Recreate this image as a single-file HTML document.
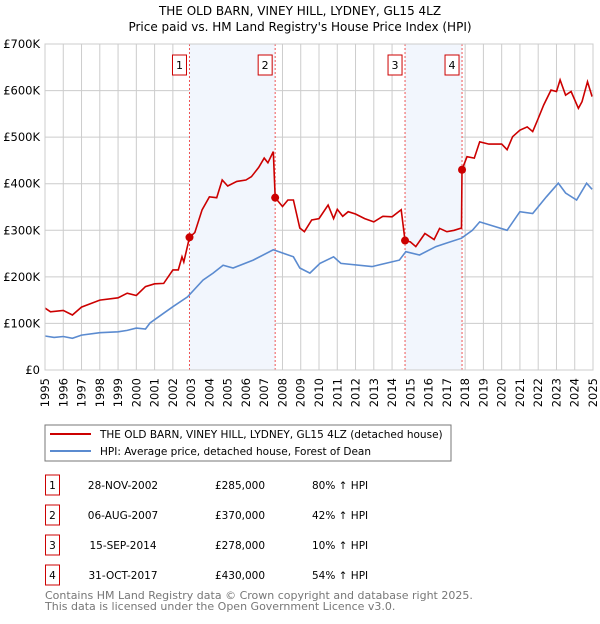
<!DOCTYPE html>
<html><head><meta charset="utf-8"><style>
body{margin:0;width:600px;height:620px;background:#fff;font-family:"DejaVu Sans","Liberation Sans",sans-serif;overflow:hidden}
svg text{font-family:"DejaVu Sans","Liberation Sans",sans-serif}
</style></head><body>
<svg id="chart" width="600" height="620" xmlns="http://www.w3.org/2000/svg">
<text x="300" y="15" text-anchor="middle" font-size="12">THE OLD BARN, VINEY HILL, LYDNEY, GL15 4LZ</text>
<text x="300" y="31" text-anchor="middle" font-size="12">Price paid vs. HM Land Registry's House Price Index (HPI)</text>
<g id="grid"></g><g id="shade"></g><g id="lines"></g><g id="axes"></g>
<rect x="45" y="425" width="406" height="36" fill="#fff" stroke="#777"/>
<line x1="50" y1="434" x2="91" y2="434" stroke="#cc0000" stroke-width="2"/>
<text x="100" y="438" font-size="10.5">THE OLD BARN, VINEY HILL, LYDNEY, GL15 4LZ (detached house)</text>
<line x1="50" y1="451" x2="91" y2="451" stroke="#5b8bd0" stroke-width="2"/>
<text x="100" y="455" font-size="10.5">HPI: Average price, detached house, Forest of Dean</text>
<g id="table" font-size="10.5"></g>
<text x="45" y="599" font-size="11" fill="#777">Contains HM Land Registry data © Crown copyright and database right 2025.</text>
<text x="45" y="610" font-size="11" fill="#777">This data is licensed under the Open Government Licence v3.0.</text>
</svg>
<script>
const hpiYears=[1995,1995.5,1996,1996.5,1997,1998,1999,1999.5,2000,2000.5,2000.75,2001.5,2002,2002.8,2003.65,2004.2,2004.75,2005.3,2006.4,2007.5,2008.6,2008.95,2009.5,2010.05,2010.8,2011.2,2012.9,2014.4,2014.75,2015.5,2016.4,2016.95,2017.8,2018.4,2018.8,2020.3,2021,2021.7,2022.45,2023.1,2023.5,2024.1,2024.65,2024.95];
const hpiValues=[73,70,72,68,75,80,82,85,90,88,101,122,136,157,193,208,225,219,236,258,243,219,208,229,243,229,222,236,254,247,265,272,283,300,318,300,340,336,372,401,380,365,401,388];
const priceYears=[1995,1995.3,1996,1996.5,1997,1998,1999,1999.5,2000,2000.5,2001,2001.5,2002,2002.3,2002.5,2002.6,2002.91,2003.2,2003.6,2004,2004.4,2004.7,2005,2005.5,2006,2006.3,2006.7,2007,2007.2,2007.5,2007.6,2008,2008.3,2008.6,2008.95,2009.2,2009.6,2010,2010.5,2010.8,2011,2011.3,2011.6,2012,2012.5,2013,2013.5,2014,2014.5,2014.71,2015,2015.3,2015.8,2016.3,2016.6,2017,2017.4,2017.8,2017.83,2018.1,2018.5,2018.8,2019.3,2019.7,2020,2020.3,2020.6,2021,2021.4,2021.7,2022,2022.3,2022.7,2023,2023.2,2023.5,2023.8,2024.2,2024.4,2024.7,2024.95];
const priceValues=[133,125,128,118,135,150,155,165,160,179,185,186,215,215,243,232,285,295,344,372,370,408,395,405,408,415,435,455,445,469,370,351,365,365,305,297,322,325,354,325,345,330,340,335,325,318,330,329,344,278,275,265,293,280,304,297,300,305,430,458,455,490,485,485,485,473,501,515,522,512,540,569,601,598,623,590,598,562,576,619,587];
const saleYears=[2002.91,2007.6,2014.71,2017.83];
const saleValues=[285,370,278,430];
const saleLabels=["1","2","3","4"];
const saleDates=["28-NOV-2002","06-AUG-2007","15-SEP-2014","31-OCT-2017"];
const salePrices=["£285,000","£370,000","£278,000","£430,000"];
const saleDiffs=["80% ↑ HPI","42% ↑ HPI","10% ↑ HPI","54% ↑ HPI"];
const yTicks=[0,100,200,300,400,500,600,700];
const yTickLabels=["£0","£100K","£200K","£300K","£400K","£500K","£600K","£700K"];
const xTicks=[1995,1996,1997,1998,1999,2000,2001,2002,2003,2004,2005,2006,2007,2008,2009,2010,2011,2012,2013,2014,2015,2016,2017,2018,2019,2020,2021,2022,2023,2024,2025];

const NS="http://www.w3.org/2000/svg";
const X0=45,X1=593,Y0=370,Y1=44;
const xs=y=>X0+(y-1995)/30*(X1-X0);
const ys=v=>Y0-v/700*(Y0-Y1);
function mk(tag,attrs,parent,text){const e=document.createElementNS(NS,tag);for(const k in attrs)e.setAttribute(k,attrs[k]);if(text!==undefined)e.textContent=text;document.getElementById(parent).appendChild(e);return e;}
for(let i=0;i<4;i+=2){
 const r=mk('rect',{x:xs(saleYears[i]),y:Y1,width:xs(saleYears[i+1])-xs(saleYears[i]),height:Y0-Y1,fill:'#f2f6fd'},'shade');
 
 
}
yTicks.forEach((t,i)=>{
 const l=mk('line',{x1:X0,x2:X1,y1:ys(t),y2:ys(t),stroke:'#cccccc'},'grid');
 
 
 const tx=mk('text',{x:X0-5,y:ys(t)+4,'text-anchor':'end','font-size':'11.5'},'axes',yTickLabels[i]);
 
 
});
xTicks.forEach(t=>{
 const l=mk('line',{x1:xs(t),x2:xs(t),y1:Y1,y2:Y0,stroke:'#cccccc'},'grid');
 
 
 const tx=mk('text',{x:0,y:0,'text-anchor':'end','font-size':'11.5',transform:`translate(${xs(t)+4},${Y0+8}) rotate(-90)`},'axes',String(t));
 
 
});
saleYears.forEach((y,i)=>{
 const l=mk('line',{x1:xs(y),x2:xs(y),y1:Y1,y2:Y0,stroke:'#ee5555','stroke-dasharray':'2,2','stroke-width':1},'shade');
 
 
 const b=mk('rect',{x:xs(y)-17,y:55,width:14,height:20,fill:'#fff',stroke:'#cc0000'},'axes');
 
 
 const t=mk('text',{x:xs(y)-10,y:69,'text-anchor':'middle','font-size':'11'},'axes',saleLabels[i]);
 
 
});
function path(xa,va,color,name){
 const d=xa.map((y,i)=>(i?'L':'M')+xs(y).toFixed(1)+','+ys(va[i]).toFixed(1)).join('');
 const p=mk('path',{d:d,fill:'none',stroke:color,'stroke-width':1.6},'lines');
 
 
}
path(hpiYears,hpiValues,'#5b8bd0','hpi-line');
path(priceYears,priceValues,'#cc0000','property-price-line');
saleYears.forEach((y,i)=>{
 const c=mk('circle',{cx:xs(y),cy:ys(saleValues[i]),r:4,fill:'#cc0000'},'lines');
 
 
});
const ax=mk('rect',{x:X0,y:Y1,width:X1-X0,height:Y0-Y1,fill:'none',stroke:'#cccccc'},'axes');


saleLabels.forEach((s,i)=>{
 const cy=485+i*30;
 const b=mk('rect',{x:45.5,y:cy-10,width:14,height:20,fill:'#fff',stroke:'#cc0000'},'table');
 
 
 const cols=[[52.5,'middle',s],[123,'middle',saleDates[i]],[240,'middle',salePrices[i]],[312,'start',saleDiffs[i]]];
 cols.forEach((c,j)=>{
  const t=mk('text',{x:c[0],y:cy+4,'text-anchor':c[1]},'table',c[2]);
  
  
 });
});
</script>
</body></html>
